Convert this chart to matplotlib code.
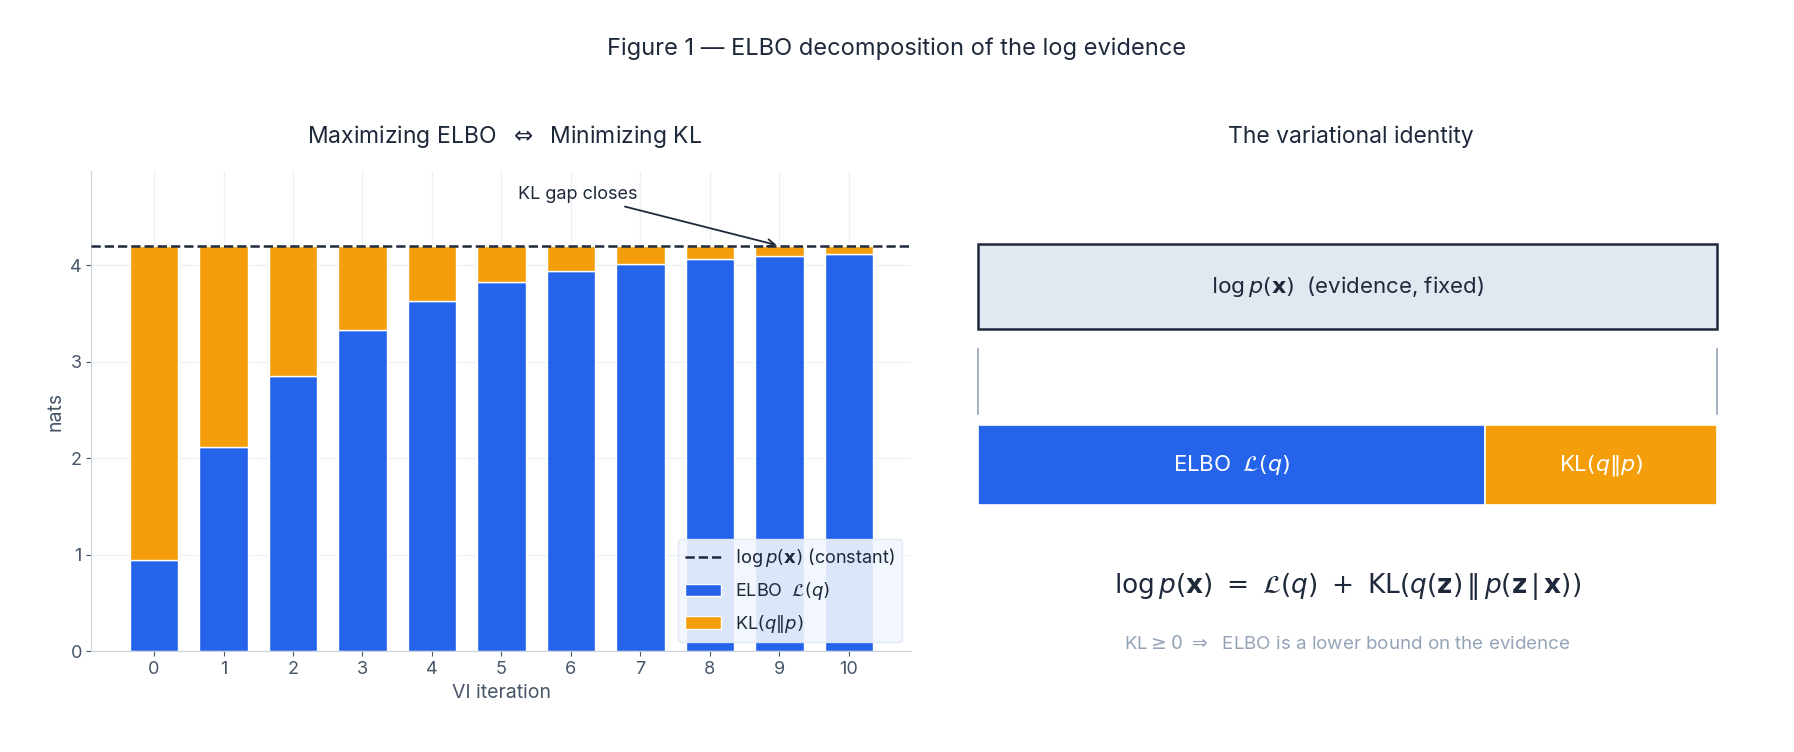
import numpy as np
import matplotlib.pyplot as plt
from matplotlib.patches import Rectangle

plt.rcParams['font.family'] = ['Inter', 'DejaVu Sans']
plt.rcParams['mathtext.fontset'] = 'dejavusans'

iterations = list(range(11))
elbo = [0.95, 2.12, 2.85, 3.33, 3.63, 3.82, 3.94, 4.01, 4.06, 4.09, 4.11]
log_evidence = 4.2
kl = [log_evidence - e for e in elbo]

BLUE = '#2563eb'
ORANGE = '#f59e0b'
DARK = '#1e293b'
GREY = '#475569'

fig = plt.figure(figsize=(17.94, 7.52), dpi=100)
fig.text(0.5, 0.935, 'Figure 1 — ELBO decomposition of the log evidence', ha='center', va='center',
         fontsize=17, color=DARK)

ax = fig.add_axes([0.051, 0.134, 0.457, 0.638])
ax.bar(iterations, elbo, width=0.7, color=BLUE, edgecolor='white', linewidth=1, label=r'ELBO  $\mathcal{L}(q)$', zorder=2)
ax.bar(iterations, kl, bottom=elbo, width=0.7, color=ORANGE, edgecolor='white', linewidth=1, label=r'KL$(q\|p)$', zorder=2)
ax.axhline(log_evidence, color=DARK, ls='--', lw=1.8, label=r'$\log p(\mathbf{x})$ (constant)', zorder=3)
ax.set_xlim(-0.9, 10.9)
ax.set_ylim(0, 4.97)
ax.set_xticks(iterations)
ax.set_yticks([0, 1, 2, 3, 4])
ax.grid(color='#eef1f5', lw=1, zorder=0)
ax.set_axisbelow(True)
for s in ['top', 'right']:
    ax.spines[s].set_visible(False)
for s in ['left', 'bottom']:
    ax.spines[s].set_color('#cbd5e1')
ax.tick_params(colors=GREY, labelsize=13)
ax.set_xlabel('VI iteration', fontsize=14, color=GREY)
ax.set_ylabel('nats', fontsize=14, color=GREY)
fig.text(0.281, 0.818, 'Maximizing ELBO  $\\Leftrightarrow$  Minimizing KL', ha='center', va='center',
         fontsize=16.5, color=DARK)
ax.annotate('KL gap closes', xy=(9, log_evidence), xytext=(6.1, 4.73), fontsize=13, color=DARK,
            ha='center', va='center', arrowprops=dict(arrowstyle='->', color=DARK, lw=1.3))
ax.legend(loc='lower right', fontsize=13, frameon=True, facecolor='#f1f5fd', edgecolor='#e2e8f0',
          labelcolor=DARK, labelspacing=0.6, framealpha=0.9)

# right panel: identity diagram, drawn in figure fractions
rx = fig.add_axes([0, 0, 1, 1])
rx.set_xlim(0, 1)
rx.set_ylim(0, 1)
rx.axis('off')
rx.text(0.753, 0.818, 'The variational identity', ha='center', va='center', fontsize=16.5, color=DARK)
ex0, ex1 = 0.545, 0.957
split = 0.828
rx.add_patch(Rectangle((ex0, 0.562), ex1 - ex0, 0.114, facecolor='#e2e8f0', edgecolor=DARK, lw=1.8))
rx.text((ex0 + ex1) / 2, 0.619, r'$\log p(\mathbf{x})$  (evidence, fixed)', ha='center', va='center',
        fontsize=16, color=DARK)
rx.plot([ex0, ex0], [0.450, 0.536], color='#94a3b8', lw=1.2)
rx.plot([ex1, ex1], [0.450, 0.536], color='#94a3b8', lw=1.2)
rx.add_patch(Rectangle((ex0, 0.328), split - ex0, 0.107, facecolor=BLUE, edgecolor='white', lw=1.2))
rx.add_patch(Rectangle((split, 0.328), ex1 - split, 0.107, facecolor=ORANGE, edgecolor='white', lw=1.2))
rx.text((ex0 + split) / 2, 0.381, r'ELBO  $\mathcal{L}(q)$', ha='center', va='center', fontsize=16, color='white')
rx.text((split + ex1) / 2, 0.381, r'KL$(q\|p)$', ha='center', va='center', fontsize=16, color='white')
rx.text(0.751, 0.220, r'$\log p(\mathbf{x})\ =\ \mathcal{L}(q)\ +\ \mathrm{KL}(q(\mathbf{z})\,\|\,p(\mathbf{z}\,|\,\mathbf{x}))$',
        ha='center', va='center', fontsize=19, color=DARK)
rx.text(0.751, 0.144, r'KL$\geq 0\ \Rightarrow$  ELBO is a lower bound on the evidence',
        ha='center', va='center', fontsize=13.5, color='#94a3b8')

fig.savefig('out.png', dpi=100, facecolor='white')
